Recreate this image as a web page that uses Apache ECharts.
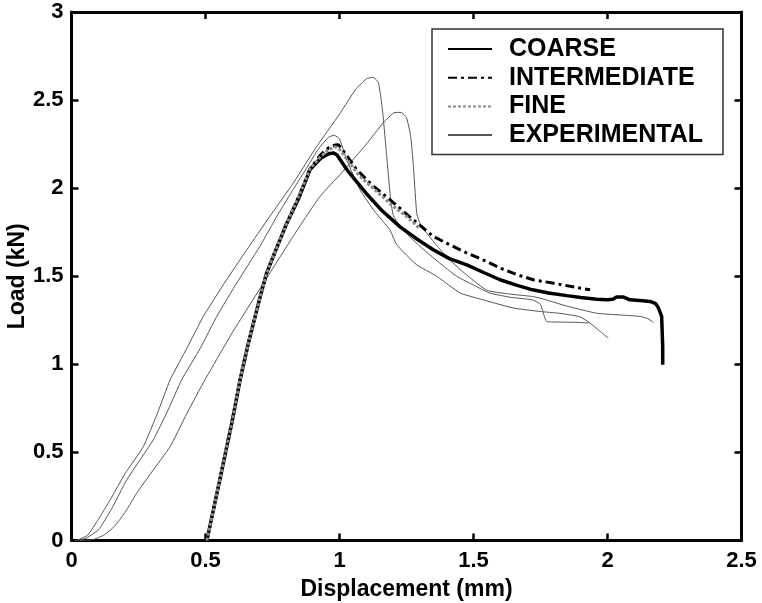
<!DOCTYPE html>
<html>
<head>
<meta charset="utf-8">
<script src="https://cdn.jsdelivr.net/npm/echarts@6/dist/echarts.min.js"></script>
<style>html,body{margin:0;padding:0;background:#fff}#c{width:762px;height:603px}</style>
</head>
<body>
<div id="c"></div>
<script>
const legendNames = ['COARSE', 'INTERMEDIATE', 'FINE', 'EXPERIMENTAL'];
const xTicks = [0, 0.5, 1, 1.5, 2, 2.5];
const yTicks = [0, 0.5, 1, 1.5, 2, 2.5, 3];

const coarseX = [0.505,0.55,0.60,0.629,0.66,0.70,0.728,0.76,0.803,0.85,0.89,0.93,0.96,0.977,0.99,1.03,1.10,1.16,1.226,1.29,1.35,1.41,1.475,1.54,1.599,1.66,1.72,1.78,1.848,1.90,1.96,1.997,2.02,2.034,2.06,2.084,2.12,2.159,2.18,2.19,2.202,2.206,2.206];
const coarseY = [0,0.32,0.68,0.912,1.12,1.36,1.518,1.64,1.80,1.95,2.105,2.17,2.195,2.20,2.19,2.10,1.97,1.87,1.78,1.71,1.65,1.60,1.565,1.52,1.48,1.45,1.423,1.405,1.39,1.38,1.37,1.366,1.37,1.382,1.382,1.366,1.362,1.357,1.345,1.32,1.272,1.10,0.997];

const interX = [0.505,0.55,0.60,0.629,0.66,0.70,0.728,0.76,0.803,0.85,0.89,0.93,0.96,0.985,0.996,1.02,1.064,1.12,1.188,1.26,1.35,1.41,1.475,1.54,1.599,1.66,1.723,1.80,1.897,1.935];
const interY = [0,0.32,0.68,0.912,1.12,1.36,1.518,1.64,1.80,1.96,2.11,2.19,2.23,2.245,2.247,2.20,2.105,2.02,1.935,1.84,1.726,1.68,1.632,1.59,1.547,1.51,1.48,1.46,1.433,1.423];

const fineX = [0.505,0.55,0.60,0.629,0.66,0.70,0.728,0.76,0.803,0.85,0.89,0.93,0.96,0.983,1.00,1.03,1.076,1.14,1.20,1.25,1.30];
const fineY = [0,0.32,0.68,0.912,1.12,1.36,1.518,1.64,1.80,1.96,2.11,2.18,2.22,2.235,2.22,2.16,2.067,1.98,1.897,1.84,1.77];

const expAX = [0.01,0.05,0.10,0.15,0.206,0.305,0.36,0.411,0.48,0.542,0.62,0.703,0.77,0.83,0.88,0.92,0.96,0.98,1.0,1.027,1.077,1.13,1.188,1.213,1.288,1.363,1.45,1.55,1.648,1.748,1.82,1.897,1.935,1.97,2.003];
const expAY = [0,0.01,0.06,0.18,0.344,0.571,0.74,0.912,1.09,1.272,1.47,1.67,1.85,2.0,2.12,2.22,2.29,2.30,2.28,2.16,1.99,1.87,1.764,1.68,1.565,1.50,1.405,1.36,1.32,1.30,1.29,1.27,1.234,1.19,1.149];

const expBX = [0.02,0.06,0.10,0.144,0.20,0.268,0.32,0.368,0.43,0.492,0.57,0.654,0.74,0.828,0.915,1.0,1.06,1.10,1.125,1.145,1.16,1.175,1.19,1.2,1.226,1.30,1.37,1.437,1.50,1.56,1.64,1.72,1.75,1.773,1.83,1.89,1.93];
const expBY = [0,0.03,0.12,0.23,0.38,0.533,0.72,0.912,1.09,1.272,1.46,1.65,1.84,2.03,2.237,2.42,2.56,2.62,2.63,2.60,2.45,2.2,1.95,1.85,1.78,1.67,1.58,1.50,1.45,1.405,1.38,1.366,1.34,1.243,1.24,1.238,1.235];

const expCX = [0.03,0.08,0.12,0.16,0.20,0.243,0.30,0.368,0.43,0.498,0.60,0.716,0.82,0.927,1.01,1.10,1.163,1.207,1.23,1.25,1.265,1.275,1.288,1.30,1.325,1.36,1.41,1.48,1.55,1.63,1.72,1.748,1.85,1.96,2.05,2.121,2.15,2.171];
const expCY = [0,0.005,0.03,0.08,0.16,0.268,0.39,0.533,0.72,0.912,1.18,1.46,1.71,1.953,2.09,2.25,2.37,2.43,2.43,2.40,2.30,2.14,1.86,1.80,1.745,1.68,1.594,1.50,1.42,1.40,1.385,1.376,1.33,1.29,1.28,1.272,1.26,1.238];

function zip(xs, ys) { return xs.map((x, i) => [x, ys[i]]); }

const FONT = '"Liberation Sans", Arial, sans-serif';
const chart = echarts.init(document.getElementById('c'), null, {renderer: 'canvas'});

function expSeries(xs, ys) {
  return {name: 'EXPERIMENTAL', type: 'line', data: zip(xs, ys), symbol: 'none', showSymbol: false,
    smooth: 0.15,
    color: '#555', lineStyle: {color: '#555', width: 1}, z: 2};
}

const boxAxis = {
  axisLine: {show: true, onZero: false, lineStyle: {color: '#000', width: 3}},
  axisTick: {show: true, inside: true, length: 7, lineStyle: {color: '#000', width: 2.5}},
  splitLine: {show: false}
};

const option = {
  animation: false,
  backgroundColor: '#fff',
  grid: {left: 71.5, top: 12, width: 670, height: 528.5, containLabel: false, outerBoundsMode: 'none'},
  legend: {
    data: legendNames,
    orient: 'vertical', left: 432, top: 29,
    itemWidth: 44, itemHeight: 14, itemGap: 3.7,
    padding: [7.5, 20, 7, 15],
    borderColor: '#333', borderWidth: 1.5, backgroundColor: '#fff',
    itemStyle: {opacity: 0},
    textStyle: {fontFamily: FONT, fontSize: 25, fontWeight: 'bold', color: '#000', lineHeight: 25, padding: [0, 0, 0, 12]},
    z: 10
  },
  xAxis: [Object.assign({
    type: 'value', min: 0, max: 2.5, interval: 0.5,
    name: 'Displacement (mm)', nameLocation: 'middle', nameGap: 38,
    nameTextStyle: {fontFamily: FONT, fontSize: 23, fontWeight: 'bold', color: '#000'},
    axisLabel: {fontFamily: FONT, fontSize: 22, fontWeight: 'bold', color: '#000', margin: 9,
      formatter: v => xTicks.includes(v) ? String(v) : ''}
  }, boxAxis), Object.assign({
    type: 'value', min: 0, max: 2.5, interval: 0.5, position: 'top',
    axisLabel: {show: false}
  }, boxAxis)],
  yAxis: [Object.assign({
    type: 'value', min: 0, max: 3, interval: 0.5,
    name: 'Load (kN)', nameLocation: 'middle', nameGap: 42, nameMoveOverlap: false,
    nameTextStyle: {fontFamily: FONT, fontSize: 23, fontWeight: 'bold', color: '#000'},
    axisLabel: {fontFamily: FONT, fontSize: 22, fontWeight: 'bold', color: '#000', margin: 8,
      formatter: v => yTicks.includes(v) ? String(v) : ''}
  }, boxAxis), Object.assign({
    type: 'value', min: 0, max: 3, interval: 0.5, position: 'right',
    axisLabel: {show: false}
  }, boxAxis)],
  series: [
    {name: 'COARSE', type: 'line', data: zip(coarseX, coarseY), symbol: 'none', showSymbol: false,
      color: '#000', lineStyle: {color: '#000', width: 3.5}, z: 3},
    {name: 'INTERMEDIATE', type: 'line', data: zip(interX, interY), symbol: 'none', showSymbol: false,
      color: '#000', lineStyle: {color: '#000', width: 3, type: [9, 4, 3, 4]}, z: 4},
    {name: 'FINE', type: 'line', data: zip(fineX, fineY), symbol: 'none', showSymbol: false,
      color: '#8a8a8a', lineStyle: {color: '#8a8a8a', width: 3, type: [3, 2]}, z: 5},
    expSeries(expAX, expAY),
    expSeries(expBX, expBY),
    expSeries(expCX, expCY)
  ]
};
chart.setOption(option);
</script>
</body>
</html>
